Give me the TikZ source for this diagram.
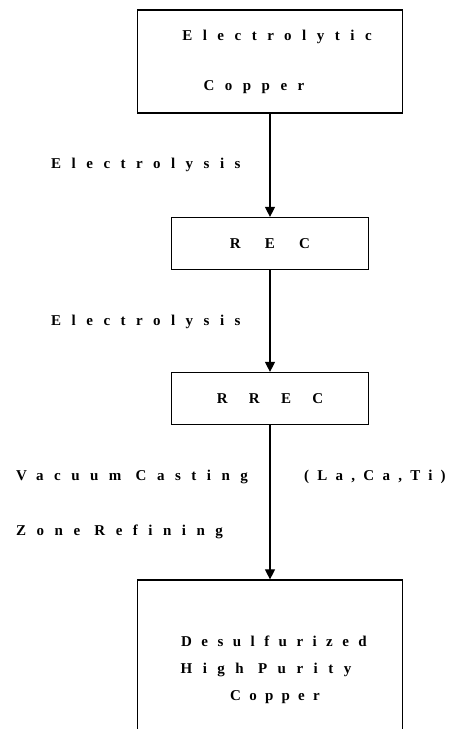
\documentclass[tikz,border=0pt]{standalone}
\usepackage{fontspec}
\usepackage{tikz}
\usetikzlibrary{arrows.meta,positioning}
\newfontfamily\widefont[LetterSpace=70]{Liberation Serif}
\newfontfamily\midfont[LetterSpace=63]{Liberation Serif}
\newfontfamily\narrowfont[LetterSpace=55]{Liberation Serif}

\begin{document}
\begin{tikzpicture}[x=1pt, y=-1pt,
        box/.style={draw, rectangle, line width=1.2pt, align=center, minimum width=197pt, minimum height=52pt, inner sep=0pt},
        bigbox/.style={box, minimum width=265pt},
        arrow/.style={-{Triangle[width=10pt, length=10pt]}, line width=1.1pt},
        lbl/.style={anchor=west, inner sep=0pt},
        every node/.style={font=\widefont\fontsize{15}{18}\bfseries}
    ]
        \useasboundingbox (0,0) rectangle (457,729);
        \clip (0,0) rectangle (457,729);
        % Nodes
        \node[bigbox, minimum height=103pt] (ec) at (270, 61.5) {\hspace*{14pt}Electrolytic \\[32pt] Copper\hspace*{32pt}};
        \node[box] (rec) at (270, 243.5) {R\hspace{10pt} E\hspace{10pt} C};
        \node[box] (rrec) at (270, 398.5) {R\hspace{7pt} R\hspace{7pt} E\hspace{7pt} C};
        \node[bigbox, minimum height=180pt] (hpc) at (270, 670) {\hspace*{8pt}{\midfont\fontsize{15}{18}\bfseries Desulfurized} \\[9pt] High Purity\hspace*{8pt} \\[9pt] \hspace*{10pt}{\narrowfont\fontsize{15}{18}\bfseries Copper}};

        % Labels
        \node[lbl] (el1) at (51, 165) {Electrolysis};
        \node[lbl] (el2) at (51, 322) {Electrolysis};
        \node[lbl] (vc) at (16, 477) {Vacuum Casting};
        \node[lbl, font=\narrowfont\fontsize{15}{18}\bfseries] (add) at (304, 477) {(La,Ca,Ti)};
        \node[lbl] (zr) at (16, 532) {Zone Refining};

        % Arrows
        \draw[arrow] (ec.south) -- (rec.north);
        \draw[arrow] (rec.south) -- (rrec.north);
        \draw[arrow] (rrec.south) -- (hpc.north);
    \end{tikzpicture}
\end{document}
